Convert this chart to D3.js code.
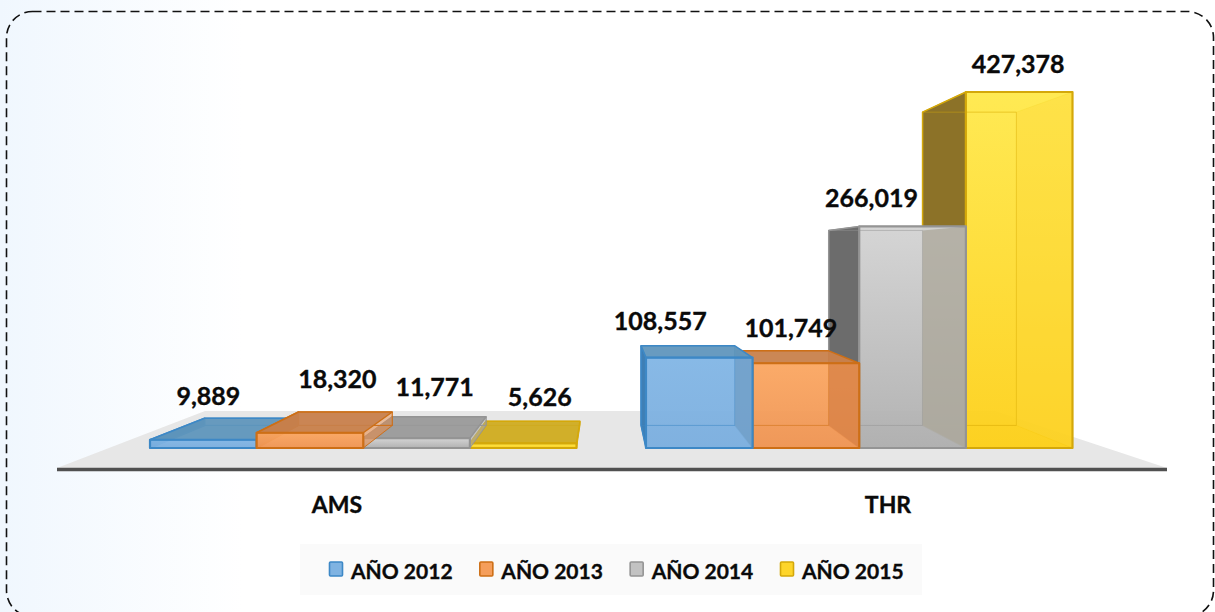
<!DOCTYPE html>
<html><head><meta charset="utf-8">
<script src="https://cdn.jsdelivr.net/npm/d3@7"></script>
<style>html,body{margin:0;padding:0;background:#fff;overflow:hidden}svg{display:block}text{font-family:Lato,"Open Sans",sans-serif;font-weight:700;fill:#0a0a0a;stroke:#0a0a0a;stroke-width:.35px}</style>
</head><body><div id="c"></div>
<script>
const categories = ["AMS","THR"];
const seriesNames = ["AÑO 2012","AÑO 2013","AÑO 2014","AÑO 2015"];
const ams = [9889,18320,11771,5626];
const thr = [108557,101749,266019,427378];
const valueLabels = d3.format(",");

const W=1215,H=612;
const svg=d3.select("#c").append("svg").attr("width",W).attr("height",H);
const defs=svg.append("defs");

const bg=defs.append("linearGradient").attr("id","bg").attr("x1",0).attr("x2",1).attr("y1",0).attr("y2",0);
bg.append("stop").attr("offset",0).attr("stop-color","#f0f7fe");
bg.append("stop").attr("offset",.2).attr("stop-color","#ffffff");
svg.append("rect").attr("width",W).attr("height",H).attr("fill","url(#bg)");
svg.append("rect").attr("x",6.5).attr("y",11.5).attr("width",1207).attr("height",605).attr("rx",26)
  .attr("fill","none").attr("stroke","#111").attr("stroke-width",1.6).attr("stroke-dasharray","9 5");

const styles=[
 {edge:"#3d88c6",top:"#6096bb",side:"#6f9fc8",wall:"#3f7fb5",f0:"#82b6e5",f1:"#7cafdf"},
 {edge:"#cd6f16",top:"#c7804c",side:"#da8245",wall:"#b5733f",f0:"#fba762",f1:"#ef9554"},
 {edge:"#949494",top:"#9a9a9a",side:"#aca89c",wall:"#6c6c6c",f0:"#d4d4d4",f1:"#afafaf"},
 {edge:"#d4a80a",top:"#cfab22",side:"#fdd52a",wall:"#8c7228",f0:"#ffe94d",f1:"#fdd01a"}
];
styles.forEach((s,i)=>{
  const g=defs.append("linearGradient").attr("id","f"+i).attr("x1",0).attr("x2",0).attr("y1",0).attr("y2",1);
  g.append("stop").attr("offset",0).attr("stop-color",s.f0);
  g.append("stop").attr("offset",1).attr("stop-color",s.f1);
});

const x0=d3.scaleBand().domain(categories).range([150,1072.5]).paddingInner(.14);
const x1=d3.scaleBand().domain(d3.range(4)).range([0,x0.bandwidth()]);
const y=d3.scaleLinear().domain([0,427378]).range([448,92]);

// perspective projection toward a vanishing point
const vp={x:605,y:260}, depth=.88;
const back=(px,py)=>[vp.x+(px-vp.x)*depth, vp.y+(py-vp.y)*depth];
const line=d3.line();
const poly=(g,pts,fill,stroke,sw,op)=>g.append("path").attr("d",line(pts)+"Z").attr("fill",fill)
  .attr("stroke",stroke||"none").attr("stroke-width",sw||0).attr("fill-opacity",op==null?1:op).attr("stroke-linejoin","round");

// floor
poly(svg.append("g"),[[205,411],[995,411],[1167,468],[57,468]],"#e7e7e7");
svg.append("line").attr("x1",57).attr("x2",1167).attr("y1",469.5).attr("y2",469.5).attr("stroke","#505050").attr("stroke-width",3.5);

const paintOrder={AMS:[3,2,0,1],THR:[3,2,1,0]};
const valuesBy={AMS:ams,THR:thr};
const labelNudge={AMS:[[5,-35],[27.5,-45],[18,-42],[16.5,-37]],THR:[[-39,-28],[-15,-26],[-41,-19],[-1,-19]]};

categories.forEach(cat=>{
  paintOrder[cat].forEach(i=>{
    const v=valuesBy[cat][i], s=styles[i];
    const l=x0(cat)+x1(i), r=l+x1.bandwidth(), t=y(v), b=y(0);
    const bl=back(l,b), br=back(r,b), tl=back(l,t), tr=back(r,t);
    const above=t>vp.y; // top face seen from above only when lower than the eye line
    const front=[[l,t],[r,t],[r,b],[l,b]];
    const g=svg.append("g");
    poly(g,[tl,tr,br,bl],s.f1,s.edge,1,.35);
    poly(g,[bl,br,[r,b],[l,b]],s.f1,s.edge,1,.5);
    if(!above) poly(g,[tl,tr,[r,t],[l,t]],s.f0,s.edge,1,.5);
    poly(g,[tl,[l,t],[l,b],bl],s.wall,s.edge,1.5,1);
    poly(g,front,`url(#f${i})`,"none",0,.93);
    // inner edges showing through the translucent front
    g.append("path").attr("d",line([tl,tr,br,bl])+"Z").attr("fill","none").attr("stroke",s.edge).attr("stroke-opacity",.45).attr("stroke-width",1);
    poly(g,[tr,[r,t],[r,b],br],s.side,"none",0,cat==="AMS"?.2:(i===3?.35:.75));
    if(above) poly(g,[tl,tr,[r,t],[l,t]],s.top,s.edge,1.5,.93);
    poly(g,front,"none",s.edge,2.2);
  });
});

// value labels
categories.forEach(cat=>valuesBy[cat].forEach((v,i)=>{
  const n=labelNudge[cat][i];
  svg.append("text").attr("x",x0(cat)+x1(i)+x1.bandwidth()/2+n[0]).attr("y",y(v)+n[1])
    .attr("text-anchor","middle").attr("font-size",25).text(valueLabels(v));
}));

// category labels
const catX={AMS:337,THR:888};
categories.forEach(c=>svg.append("text").attr("x",catX[c]).attr("y",513).attr("text-anchor","middle").attr("font-size",23).text(c));

// legend
svg.append("rect").attr("x",300).attr("y",544).attr("width",622).attr("height",51).attr("fill","#fafafa");
const lg=d3.scalePoint().domain(d3.range(4)).range([329.5,780.5]);
seriesNames.forEach((n,i)=>{
  svg.append("rect").attr("x",lg(i)).attr("y",562).attr("width",13).attr("height",14).attr("rx",1)
    .attr("fill",i===3?"#fed52a":d3.interpolateRgb(styles[i].f0,styles[i].f1)(.5)).attr("stroke",styles[i].edge).attr("stroke-width",1.6);
  svg.append("text").attr("x",lg(i)+21.5).attr("y",579).attr("font-size",21).text(n);
});
</script></body></html>
